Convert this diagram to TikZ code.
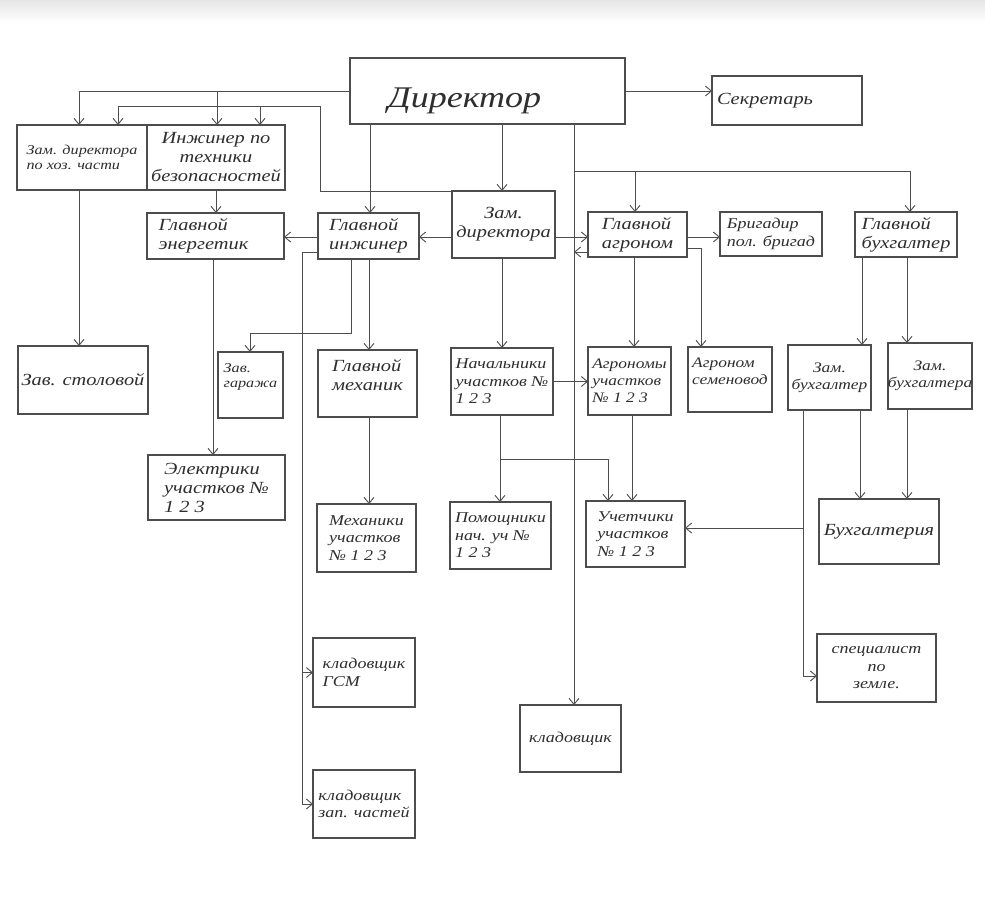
\documentclass[tikz,border=0pt]{standalone}
\usepackage{fontspec}
\newfontfamily\hand[FakeStretch=1.2]{Liberation Serif}
\usetikzlibrary{arrows.meta}
\definecolor{linec}{HTML}{4d4d4d}
\definecolor{txtc}{HTML}{2e2e2e}
\tikzset{
 box/.style={draw=linec, line width=1.2pt, inner sep=0pt, outer sep=0pt, rectangle},
 t/.style={text=txtc, font=\hand\itshape\fontsize{17}{19}\selectfont, align=left, inner sep=0pt},
 tmid/.style={font=\hand\itshape\fontsize{15}{17.5}\selectfont},
 tnar/.style={font=\hand\itshape\fontsize{14.5}{17}\selectfont},
 tsmall/.style={font=\hand\itshape\fontsize{13.5}{15.5}\selectfont},
 tbig/.style={font=\hand\itshape\fontsize{30}{32}\selectfont},
 conn/.style={draw=linec, line width=0.9pt},
 arr/.style={conn, -{Straight Barb[length=6pt,width=10pt]}},
}
\newcommand\bx[7][]{\node[box, minimum width={(#5-#3)*1pt}, minimum height={(#6-#4)*1pt},
  label={[t,#1]center:{#7}}] (#2) at ({(#3+#5)/2},{(#4+#6)/2}) {};}
\begin{document}
\begin{tikzpicture}[x=1pt,y=-1pt]
\fill[white] (0,0) rectangle (985,910);
\useasboundingbox (0,0) rectangle (985,910);
\shade[top color=black!10, bottom color=white] (0,0) rectangle (985,22);

\bx[tbig,xshift=-23pt,yshift=-10pt]{dir}{350}{58}{625}{124}{Директор}
\bx[xshift=-22pt]{sec}{712}{76}{862}{125}{Секретарь}
\bx[tsmall]{zhoz}{17}{125}{147}{190}{Зам. директора\\по хоз. части}
\bx[align=center]{inzh}{147}{125}{285}{190}{Инжинер по\\техники\\безопасностей}
\bx[xshift=-12pt]{energ}{147}{213}{284}{259}{Главной\\энергетик}
\bx{ginzh}{318}{213}{419}{259}{Главной\\инжинер}
\bx[align=center]{zam}{452}{191}{555}{258}{Зам.\\директора}
\bx{agr}{588}{212}{687}{257}{Главной\\агроном}
\bx[tmid]{brig}{720}{212}{822}{256}{Бригадир\\пол. бригад}
\bx{gbuh}{855}{212}{957}{257}{Главной\\бухгалтер}
\bx{stol}{18}{346}{148}{414}{Зав. столовой}
\bx[tsmall,yshift=8pt]{gar}{218}{352}{283}{418}{Зав.\\гаража}
\bx[yshift=8pt]{mech}{318}{350}{417}{417}{Главной\\механик}
\bx[tmid]{nach}{451}{348}{553}{415}{Начальники\\участков №\\1 2 3}
\bx[tnar]{agru}{588}{347}{671}{415}{Агрономы\\участков\\№ 1 2 3}
\bx[tnar,yshift=8pt]{sem}{688}{347}{772}{412}{Агроном\\семеновод}
\bx[tnar,align=center]{zb1}{788}{345}{871}{410}{Зам.\\бухгалтер}
\bx[tnar,align=center]{zb2}{888}{343}{972}{409}{Зам.\\бухгалтера}
\bx{elek}{148}{455}{285}{520}{Электрики\\участков №\\1 2 3}
\bx[tmid]{mechu}{317}{504}{416}{572}{Механики\\участков\\№ 1 2 3}
\bx[tmid]{pom}{450}{502}{551}{569}{Помощники\\нач. уч №\\1 2 3}
\bx[tmid]{uch}{586}{501}{685}{567}{Учетчики\\участков\\№ 1 2 3}
\bx{buh}{819}{499}{939}{564}{Бухгалтерия}
\bx[tmid,align=center]{spec}{817}{634}{936}{702}{специалист\\по\\земле.}
\bx[tmid]{klgsm}{313}{638}{415}{707}{кладовщик\\ГСМ}
\bx[tmid]{klad}{520}{705}{621}{772}{кладовщик}
\bx[tmid]{klzap}{313}{770}{415}{838}{кладовщик\\зап. частей}

% connectors
\draw[arr] (dir.east) -- (dir.east -| sec.west);
\draw[arr] (dir.west) -| (zhoz.north -| 79,0);
\draw[arr] (dir.west -| 217,0) -- (inzh.north -| 217,0);
\draw[arr] (zam.north west) -| (320,106) -| (zhoz.north -| 118,0);
\coordinate (j1) at (260,106);
\draw[arr] (j1) -- (inzh.north -| j1);
\draw[arr] (dir.south -| 370,0) -- (ginzh.north -| 370,0);
\draw[arr] (dir.south -| 502,0) -- (zam.north -| 502,0);
\draw[arr] (dir.south -| 574,0) -- (klad.north -| 574,0);
\coordinate (j2) at (574,171);
\draw[arr] (j2) -| (gbuh.north -| 910,0);
\draw[arr] (j2 -| 635,0) -- (agr.north -| 635,0);
\draw[arr] (zam.west |- 0,237) -- (ginzh.east |- 0,237);
\draw[arr] (ginzh.west |- 0,237) -- (energ.east |- 0,237);
\draw[arr] (zam.east |- 0,237) -- (agr.west |- 0,237);
\coordinate (j3) at (574,252);
\draw[arr] (agr.west |- j3) -- (j3);
\draw[arr] (agr.east |- 0,237) -- (brig.west |- 0,237);
\draw[arr] (agr.east |- 0,248) -| (sem.north -| 701,0);
\draw[arr] (agr.south -| 634,0) -- (agru.north -| 634,0);
\draw[arr] (gbuh.south -| 862,0) -- (zb1.north -| 862,0);
\draw[arr] (gbuh.south -| 907,0) -- (zb2.north -| 907,0);
\draw[arr] (zhoz.south -| 79,0) -- (stol.north -| 79,0);
\draw[arr] (inzh.south -| 216,0) -- (energ.north -| 216,0);
\draw[arr] (energ.south -| 213,0) -- (elek.north -| 213,0);
\draw[arr] (ginzh.south -| 351,0) |- (250,333) -- (gar.north -| 250,0);
\draw[arr] (ginzh.west |- 0,252) -| (klzap.west -| 302,0) -- (klzap.west);
\draw[arr] (klgsm.west -| 302,0) -- (klgsm.west);
\draw[arr] (ginzh.south -| 369,0) -- (mech.north -| 369,0);
\draw[arr] (mech.south -| 369,0) -- (mechu.north -| 369,0);
\draw[arr] (zam.south -| 502,0) -- (nach.north -| 502,0);
\draw[arr] (nach.east) -- (nach.east -| agru.west);
\draw[arr] (nach.south -| 500,0) -- (pom.north -| 500,0);
\coordinate (j4) at (500,459);
\draw[arr] (j4) -| (uch.north -| 608,0);
\draw[arr] (agru.south -| 632,0) -- (uch.north -| 632,0);
\draw[arr] (zb1.south -| 860,0) -- (buh.north -| 860,0);
\draw[arr] (zb2.south -| 907,0) -- (buh.north -| 907,0);
\draw[arr] (zb1.south -| 803,0) |- (spec.west |- 0,676);
\coordinate (j5) at (803,528);
\draw[arr] (j5) -- (uch.east |- j5);
\end{tikzpicture}
\end{document}
